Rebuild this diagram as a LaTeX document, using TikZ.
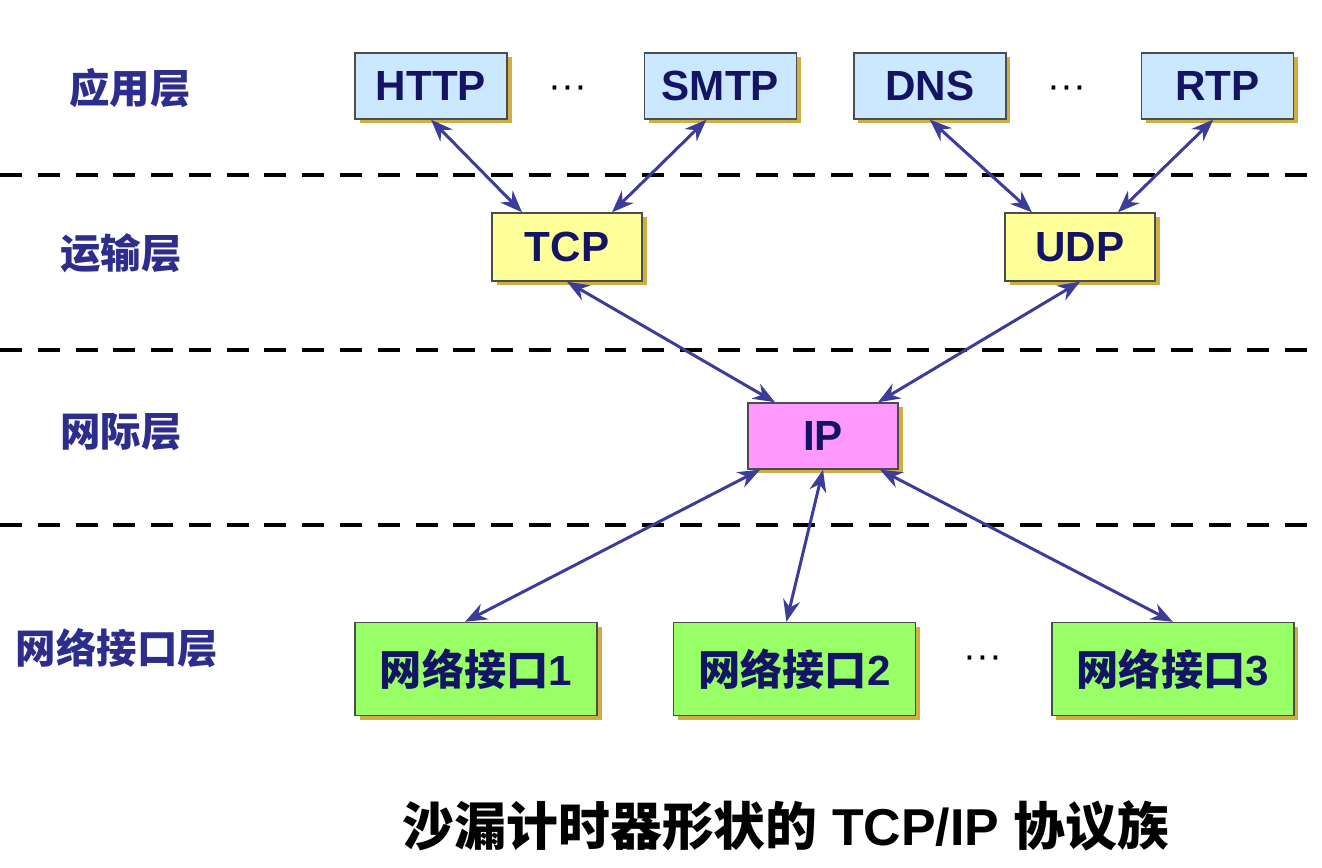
\documentclass[tikz,border=0pt]{standalone}
\usepackage{fontspec}
\setmainfont{Liberation Sans}
\newfontfamily\cjk{Noto Sans CJK SC}
\usetikzlibrary{arrows.meta, positioning, shadows}
\usepackage{xcolor}

\definecolor{appfill}{RGB}{204,232,255}
\definecolor{tranfill}{RGB}{255,255,153}
\definecolor{ipfill}{RGB}{255,153,255}
\definecolor{netfill}{RGB}{153,255,102}
\definecolor{shadowgold}{RGB}{205,175,70}
\definecolor{boxtext}{RGB}{20,20,100}
\definecolor{layertext}{RGB}{45,45,140}
\definecolor{arrowblue}{RGB}{60,60,155}

\begin{document}
\begin{tikzpicture}[
        box/.style={rectangle, draw=black!70, thick, fill=appfill, minimum width=3.04cm, minimum height=1.32cm,
            text=boxtext, font=\fontsize{24}{28}\selectfont\bfseries,
            drop shadow={shadow xshift=0.09cm, shadow yshift=-0.09cm, fill=shadowgold, opacity=1}},
        netbox/.style={box, fill=netfill, minimum width=4.84cm, minimum height=1.86cm, font=\fontsize{24}{28}\selectfont\bfseries},
        arrow/.style={{Stealth[length=4.4mm, width=3.4mm]}-{Stealth[length=4.4mm, width=3.4mm]}, line width=1.7pt, draw=arrowblue},
        layerline/.style={line width=2.3pt, dash pattern=on 12.5pt off 9pt},
        labelnode/.style={text=layertext, font=\fontsize{23}{26}\selectfont\bfseries\cjk},
        dotsnode/.style={font=\fontsize{22}{26}\selectfont}
    ]
        \useasboundingbox (0,0) rectangle (26.44,17.34);

        % Layer separators
        \draw [layerline] (0,13.84) -- (26.44,13.84);
        \draw [layerline] (0,10.34) -- (26.44,10.34);
        \draw [layerline] (0,6.84) -- (26.44,6.84);

        % Layer names
        \node (app) [labelnode] at (2.60,15.58) {应用层};
        \node (tran) [labelnode] at (2.42,12.28) {运输层};
        \node (inet) [labelnode] at (2.42,8.70) {网际层};
        \node (link) [labelnode] at (2.34,4.38) {网络接口层};

        % Nodes
        \node (http) [box] at (8.62,15.62) {HTTP};
        \node (smtp) [box, right=2.72cm of http] {SMTP};
        \node (dns) [box, right=1.12cm of smtp] {DNS};
        \node (rtp) [box, right=2.68cm of dns] {RTP};
        \node (tcp) [box, fill=tranfill, minimum width=3cm, minimum height=1.36cm] at (11.34,12.40) {TCP};
        \node (udp) [box, fill=tranfill, minimum width=3cm, minimum height=1.36cm] at (21.60,12.40) {UDP};
        \node (ip) [box, fill=ipfill, minimum width=3cm] at (16.46,8.62) {IP};
        \node (if1) [netbox] at (9.52,3.96) {{\cjk 网络接口}1};
        \node (if2) [netbox, right=1.5cm of if1] {{\cjk 网络接口}2};
        \node (if3) [netbox, right=2.7cm of if2] {{\cjk 网络接口}3};

        \node (dotsa) [dotsnode] at (11.36,15.50) {···};
        \node (dotsb) [dotsnode] at (21.34,15.50) {···};
        \node (dotsc) [dotsnode] at (19.66,4.10) {···};

        % Arrows
        \draw [arrow] (http.south) -- ([xshift=-0.9cm]tcp.north);
        \draw [arrow] ([xshift=-0.28cm]smtp.south) -- ([xshift=0.9cm]tcp.north);
        \draw [arrow] (dns.south) -- ([xshift=-0.96cm]udp.north);
        \draw [arrow] ([xshift=-0.08cm]rtp.south) -- ([xshift=0.76cm]udp.north);
        \draw [arrow] (tcp.south) -- ([xshift=-0.96cm]ip.north);
        \draw [arrow] (udp.south) -- ([xshift=1.1cm]ip.north);
        \draw [arrow] ([xshift=-1.26cm]ip.south) -- ([xshift=-0.22cm]if1.north);
        \draw [arrow] (ip.south) -- ([xshift=-0.16cm]if2.north);
        \draw [arrow] ([xshift=1.14cm]ip.south) -- (if3.north);

        % Caption
        \node (caption) [font=\fontsize{29.5}{34}\selectfont\bfseries] at (15.72,0.82) {{\cjk 沙漏计时器形状的} TCP/IP {\cjk 协议族}};
    \end{tikzpicture}
\end{document}
